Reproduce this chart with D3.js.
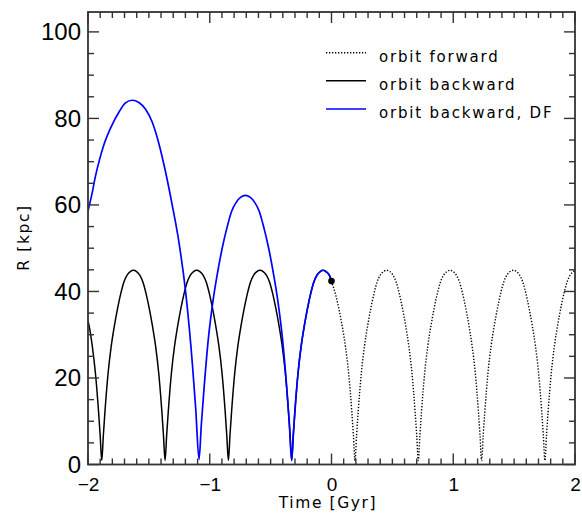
<!DOCTYPE html>
<html>
<head>
<meta charset="utf-8">
<script src="https://cdn.jsdelivr.net/npm/d3@7"></script>
<style>
  html, body { margin: 0; padding: 0; background: #fff; }
  svg { display: block; }
</style>
</head>
<body>
<svg id="chart" width="582" height="516"></svg>
<script>
// ---- Data (time in Gyr, R in kpc) ----
const xTicks = [-2, -1, 0, 1, 2];
const yTicks = [0, 20, 40, 60, 80, 100];

// orbit forward (dotted), t = 0 .. 2
const forwardT = [0, 0.011, 0.037, 0.063, 0.089, 0.115, 0.141, 0.167, 0.180, 0.193,
  0.206, 0.219, 0.245, 0.271, 0.297, 0.323, 0.349, 0.375, 0.401, 0.427, 0.453,
  0.479, 0.505, 0.531, 0.557, 0.583, 0.609, 0.635, 0.661, 0.687, 0.700, 0.713,
  0.726, 0.739, 0.765, 0.791, 0.817, 0.843, 0.869, 0.895, 0.921, 0.947, 0.973,
  0.999, 1.025, 1.051, 1.077, 1.103, 1.129, 1.155, 1.181, 1.207, 1.220, 1.233,
  1.246, 1.259, 1.285, 1.311, 1.337, 1.363, 1.389, 1.415, 1.441, 1.467, 1.493,
  1.519, 1.545, 1.571, 1.597, 1.623, 1.649, 1.675, 1.701, 1.727, 1.740, 1.753,
  1.766, 1.779, 1.805, 1.831, 1.857, 1.883, 1.909, 1.935, 1.961, 1.987, 2.000];
const forwardR = [42.4, 41.4, 38.9, 35.7, 31.8, 27.2, 21.0, 12.1, 6.7, 0.9,
  6.7, 12.1, 21.1, 27.4, 32.1, 36.1, 39.5, 42.2, 43.8, 44.6, 44.9,
  44.6, 43.8, 42.2, 39.5, 36.1, 32.1, 27.4, 21.1, 12.1, 6.7, 0.9,
  6.7, 12.1, 21.1, 27.4, 32.1, 36.1, 39.5, 42.2, 43.8, 44.6, 44.9,
  44.6, 43.8, 42.2, 39.5, 36.1, 32.1, 27.4, 21.1, 12.1, 6.7, 0.9,
  6.7, 12.1, 21.1, 27.4, 32.1, 36.1, 39.5, 42.2, 43.8, 44.6, 44.9,
  44.6, 43.8, 42.2, 39.5, 36.1, 32.1, 27.4, 21.1, 12.1, 6.7, 0.9,
  6.7, 12.1, 21.1, 27.4, 32.1, 36.1, 39.5, 42.2, 43.8, 44.6, 44.8];

// orbit backward (black), t = -2 .. 0
const backwardT = [-2.000, -1.991, -1.965, -1.939, -1.913, -1.900, -1.887,
  -1.874, -1.861, -1.835, -1.809, -1.783, -1.757, -1.731, -1.705, -1.679, -1.653, -1.627,
  -1.601, -1.575, -1.549, -1.523, -1.497, -1.471, -1.445, -1.419, -1.393, -1.380, -1.367,
  -1.354, -1.341, -1.315, -1.289, -1.263, -1.237, -1.211, -1.185, -1.159, -1.133, -1.107,
  -1.081, -1.055, -1.029, -1.003, -0.977, -0.951, -0.925, -0.899, -0.873, -0.860, -0.847,
  -0.834, -0.821, -0.795, -0.769, -0.743, -0.717, -0.691, -0.665, -0.639, -0.613, -0.587,
  -0.561, -0.535, -0.509, -0.483, -0.457, -0.431, -0.405, -0.379, -0.353, -0.340, -0.327,
  -0.314, -0.301, -0.275, -0.249, -0.223, -0.197, -0.171, -0.145, -0.119, -0.093, -0.067,
  -0.041, -0.015, 0];
const backwardR = [33.2, 32.1, 27.4, 21.1, 12.1, 6.7, 0.9,
  6.7, 12.1, 21.1, 27.4, 32.1, 36.1, 39.5, 42.2, 43.8, 44.6, 44.9,
  44.6, 43.8, 42.2, 39.5, 36.1, 32.1, 27.4, 21.1, 12.1, 6.7, 0.9,
  6.7, 12.1, 21.1, 27.4, 32.1, 36.1, 39.5, 42.2, 43.8, 44.6, 44.9,
  44.6, 43.8, 42.2, 39.5, 36.1, 32.1, 27.4, 21.1, 12.1, 6.7, 0.9,
  6.7, 12.1, 21.1, 27.4, 32.1, 36.1, 39.5, 42.2, 43.8, 44.6, 44.9,
  44.6, 43.8, 42.2, 39.5, 36.1, 32.1, 27.4, 21.1, 12.1, 6.7, 0.9,
  6.7, 12.1, 21.1, 27.4, 32.1, 36.1, 39.5, 42.2, 43.8, 44.6, 44.9,
  44.5, 43.6, 42.4];

// orbit backward with dynamical friction (blue), t = -2 .. 0
const dfT = [-2.000, -1.967, -1.940, -1.907, -1.866, -1.811, -1.743, -1.692, -1.637,
  -1.582, -1.527, -1.472, -1.417, -1.362, -1.307, -1.252, -1.197, -1.142, -1.115, -1.088,
  -1.069, -1.049, -1.011, -0.973, -0.935, -0.897, -0.859, -0.821, -0.783, -0.745, -0.707,
  -0.669, -0.631, -0.593, -0.555, -0.517, -0.479, -0.441, -0.403, -0.365, -0.346, -0.327,
  -0.314, -0.301, -0.275, -0.249, -0.223, -0.197, -0.171, -0.145, -0.119, -0.093, -0.067,
  -0.041, -0.015, 0];
const dfR = [58.6, 62.6, 66.5, 70.3, 74.2, 78.0, 81.6, 83.6, 84.2,
  83.7, 82.1, 79.1, 74.1, 67.5, 59.8, 51.2, 39.6, 23.0, 12.8, 1.2,
  9.3, 16.8, 29.2, 37.9, 44.5, 50.1, 54.7, 58.5, 60.6, 61.8, 62.2,
  61.8, 60.6, 58.5, 54.7, 50.1, 44.5, 37.9, 29.2, 16.8, 9.3, 0.9,
  6.7, 12.1, 21.1, 27.4, 32.1, 36.1, 39.5, 42.2, 43.8, 44.6, 44.9,
  44.5, 43.6, 42.4];

// present-day position
const nowT = [0];
const nowR = [42.4];

const legendLabels = ["orbit forward", "orbit backward", "orbit backward, DF"];
const legendColors = ["#000", "#000", "#0000ff"];
const legendDash = ["1.3,1.7", null, null];

// ---- Drawing ----
const svg = d3.select("#chart");
const mLeft = 88, mRight = 575, mTop = 12, mBottom = 464.5;

const x = d3.scaleLinear().domain([-2, 2]).range([mLeft, mRight]);
const y = d3.scaleLinear().domain([0, 104.6]).range([mBottom, mTop]);

const zip = (ts, rs) => ts.map((t, i) => [t, rs[i]]);
const line = d3.line().x(d => x(d[0])).y(d => y(d[1])).curve(d3.curveMonotoneX);

svg.append("clipPath").attr("id", "clip")
  .append("rect").attr("x", mLeft).attr("y", mTop)
  .attr("width", mRight - mLeft).attr("height", mBottom - mTop);

const plot = svg.append("g").attr("clip-path", "url(#clip)");

plot.append("path").datum(zip(forwardT, forwardR))
  .attr("d", line).attr("fill", "none").attr("stroke", "#000")
  .attr("stroke-width", 1.4).attr("stroke-dasharray", "1.3,1.7");

plot.append("path").datum(zip(backwardT, backwardR))
  .attr("d", line).attr("fill", "none").attr("stroke", "#000")
  .attr("stroke-width", 1.5);

plot.append("path").datum(zip(dfT, dfR))
  .attr("d", line).attr("fill", "none").attr("stroke", "#0000ff")
  .attr("stroke-width", 1.7);

svg.append("g").selectAll("circle").data(zip(nowT, nowR)).join("circle")
  .attr("cx", d => x(d[0])).attr("cy", d => y(d[1])).attr("r", 3.3)
  .attr("fill", "#000");

// ---- Axes (IDL style: box with inward ticks) ----
const axisColor = "#333";
const minorX = d3.range(-20, 21).map(v => v / 10).filter(v => !xTicks.includes(v));
const minorY = d3.range(0, 105, 5).filter(v => !yTicks.includes(v));
const MAJ = 11, MIN = 6;

const tickG = svg.append("g").attr("stroke", axisColor).attr("stroke-width", 1.4);
const xTickData = xTicks.map(v => [v, MAJ]).concat(minorX.map(v => [v, MIN]));
const yTickData = yTicks.map(v => [v, MAJ]).concat(minorY.map(v => [v, MIN]));
// bottom & top
tickG.selectAll(".xb").data(xTickData).join("line").attr("class", "xb")
  .attr("x1", d => x(d[0])).attr("x2", d => x(d[0]))
  .attr("y1", mBottom).attr("y2", d => mBottom - d[1]);
tickG.selectAll(".xt").data(xTickData).join("line").attr("class", "xt")
  .attr("x1", d => x(d[0])).attr("x2", d => x(d[0]))
  .attr("y1", mTop).attr("y2", d => mTop + d[1]);
// left & right
tickG.selectAll(".yl").data(yTickData).join("line").attr("class", "yl")
  .attr("y1", d => y(d[0])).attr("y2", d => y(d[0]))
  .attr("x1", mLeft).attr("x2", d => mLeft + d[1]);
tickG.selectAll(".yr").data(yTickData).join("line").attr("class", "yr")
  .attr("y1", d => y(d[0])).attr("y2", d => y(d[0]))
  .attr("x1", mRight).attr("x2", d => mRight - d[1]);

// tick labels via d3 axes
svg.append("g").attr("transform", `translate(${mLeft},0)`)
  .call(d3.axisLeft(y).tickValues(yTicks).tickSize(0).tickPadding(7).tickFormat(d3.format("d")))
  .call(g => g.select(".domain").remove())
  .selectAll("text").attr("font-family", "Liberation Sans, Arial, sans-serif")
  .attr("font-size", 24).attr("fill", "#000");
svg.append("g").attr("transform", `translate(0,${mBottom})`)
  .call(d3.axisBottom(x).tickValues(xTicks).tickSize(0).tickPadding(13).tickFormat(d3.format("d")))
  .call(g => g.select(".domain").remove())
  .selectAll("text").attr("font-family", "Liberation Sans, Arial, sans-serif")
  .attr("font-size", 19).attr("fill", "#000");

// frame
svg.append("rect").attr("x", mLeft).attr("y", mTop)
  .attr("width", mRight - mLeft).attr("height", mBottom - mTop)
  .attr("fill", "none").attr("stroke", axisColor).attr("stroke-width", 1.8);

// axis titles
const titleFont = "DejaVu Sans, sans-serif";
svg.append("text").attr("x", 328).attr("y", 507.5)
  .attr("text-anchor", "middle").attr("font-family", titleFont)
  .attr("font-size", 15.5).attr("letter-spacing", 1.6).text("Time [Gyr]");
svg.append("text").attr("transform", "translate(29,237.5) rotate(-90)")
  .attr("text-anchor", "middle").attr("font-family", titleFont)
  .attr("font-size", 15.5).attr("letter-spacing", 1.6).text("R [kpc]");

// legend
const legY = [52.7, 80.7, 109];
const leg = svg.append("g");
legendLabels.forEach((lab, i) => {
  const ln = leg.append("line").attr("x1", 326).attr("x2", 366)
    .attr("y1", legY[i]).attr("y2", legY[i])
    .attr("stroke", legendColors[i]).attr("stroke-width", legendDash[i] ? 1.4 : 1.5);
  if (legendDash[i]) ln.attr("stroke-dasharray", legendDash[i]);
  leg.append("text").attr("x", 379).attr("y", legY[i] + 9.4)
    .attr("font-family", titleFont).attr("font-size", 15)
    .attr("letter-spacing", 1.8).attr("fill", "#000").text(lab);
});
</script>
</body>
</html>
